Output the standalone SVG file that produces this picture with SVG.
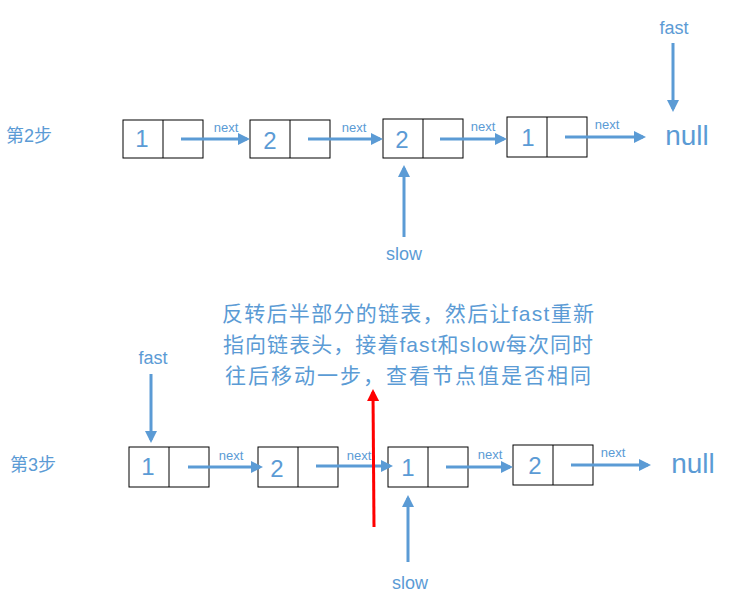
<svg xmlns="http://www.w3.org/2000/svg" width="733" height="602" viewBox="0 0 733 602">
<defs>
<marker id="a" markerWidth="4" markerHeight="4" refX="3" refY="2" orient="auto" markerUnits="strokeWidth"><path d="M0,0 L4,2 L0,4 Z" fill="#5B9BD5"/></marker>
<marker id="r" markerWidth="4" markerHeight="4" refX="3" refY="2" orient="auto" markerUnits="strokeWidth"><path d="M0,0 L4,2 L0,4 Z" fill="#FF0000"/></marker>
</defs>
<style>
.b{fill:#fff;stroke:#000;stroke-width:1}
.t{font-family:"Liberation Sans","Noto Sans CJK SC",sans-serif;fill:#5B9BD5}
.n{font-size:24px;text-anchor:middle}
.s{font-size:13px;text-anchor:middle}
.c{stroke:#5B9BD5;stroke-width:3;fill:none;marker-end:url(#a)}
</style>
<rect width="733" height="602" fill="#fff"/>
<text class="t" x="6" y="142" font-size="18">第2步</text>
<text class="t" x="10" y="471" font-size="18">第3步</text>
<g id="r1n1"><rect class="b" x="123" y="120" width="80" height="38"/><line class="b" x1="163" y1="120" x2="163" y2="158"/><text class="t n" x="142" y="147">1</text></g>
<g id="r1n2"><rect class="b" x="250" y="120" width="80" height="38"/><line class="b" x1="290" y1="120" x2="290" y2="158"/><text class="t n" x="270" y="149">2</text></g>
<g id="r1n3"><rect class="b" x="383" y="119" width="80" height="39"/><line class="b" x1="423" y1="119" x2="423" y2="158"/><text class="t n" x="402" y="148">2</text></g>
<g id="r1n4"><rect class="b" x="507" y="117" width="80" height="40"/><line class="b" x1="547" y1="117" x2="547" y2="157"/><text class="t n" x="528" y="146">1</text></g>
<text class="t" x="687" y="145" font-size="28" text-anchor="middle">null</text>
<text class="t" x="674" y="34" font-size="18" text-anchor="middle">fast</text>
<text class="t" x="404" y="260" font-size="18" text-anchor="middle">slow</text>
<g id="r2n1"><rect class="b" x="129" y="447" width="80" height="40"/><line class="b" x1="169" y1="447" x2="169" y2="487"/><text class="t n" x="148" y="475">1</text></g>
<g id="r2n2"><rect class="b" x="258" y="447" width="80" height="40"/><line class="b" x1="298" y1="447" x2="298" y2="487"/><text class="t n" x="277" y="477">2</text></g>
<g id="r2n3"><rect class="b" x="388" y="447" width="80" height="40"/><line class="b" x1="428" y1="447" x2="428" y2="487"/><text class="t n" x="408" y="476">1</text></g>
<g id="r2n4"><rect class="b" x="513" y="445" width="80" height="40"/><line class="b" x1="553" y1="445" x2="553" y2="485"/><text class="t n" x="535" y="474">2</text></g>
<text class="t" x="693" y="473" font-size="28" text-anchor="middle">null</text>
<text class="t" x="153" y="364" font-size="18" text-anchor="middle">fast</text>
<text class="t" x="410" y="589" font-size="18" text-anchor="middle">slow</text>
<g class="t" font-size="21" text-anchor="middle">
<text x="408" y="321" textLength="372">反转后半部分的链表，然后让fast重新</text>
<text x="408" y="352" textLength="370">指向链表头，接着fast和slow每次同时</text>
<text x="408" y="383" textLength="366">往后移动一步，查看节点值是否相同</text>
</g>
<g id="connectors">
<line class="c" x1="181" y1="139" x2="247" y2="139"/>
<line class="c" x1="308" y1="139" x2="380" y2="139"/>
<line class="c" x1="440" y1="139" x2="504" y2="139"/>
<line class="c" x1="565" y1="137" x2="643" y2="137"/>
<line class="c" x1="673" y1="43" x2="673" y2="109"/>
<line class="c" x1="404" y1="237" x2="404" y2="168"/>
<line class="c" x1="188" y1="467" x2="260" y2="467"/>
<line class="c" x1="316" y1="466" x2="390" y2="466"/>
<line class="c" x1="446" y1="467" x2="510" y2="467"/>
<line class="c" x1="571" y1="465" x2="648" y2="465"/>
<line class="c" x1="151" y1="374" x2="151" y2="440"/>
<line class="c" x1="408" y1="562" x2="408" y2="498"/>
<line x1="374" y1="527" x2="373" y2="392" stroke="#FF0000" stroke-width="3" marker-end="url(#r)"/>
</g>
<g class="t s">
<text x="226" y="132">next</text>
<text x="354" y="132">next</text>
<text x="483" y="131">next</text>
<text x="607" y="129">next</text>
<text x="231" y="460">next</text>
<text x="359" y="460">next</text>
<text x="490" y="459">next</text>
<text x="613" y="457">next</text>
</g>
</svg>
